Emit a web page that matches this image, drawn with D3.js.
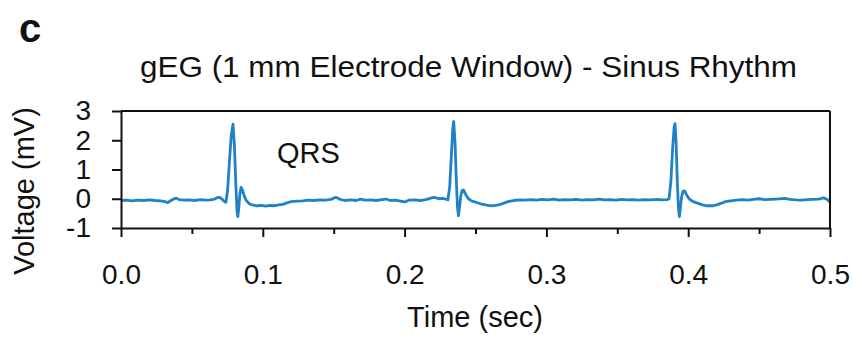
<!DOCTYPE html>
<html>
<head>
<meta charset="utf-8">
<script src="https://cdn.jsdelivr.net/npm/d3@7"></script>
<style>
  html, body { margin: 0; padding: 0; background: #fff; }
  svg { display: block; }
  text { font-family: "Liberation Sans", Arial, Helvetica, sans-serif; fill: #111; }
</style>
</head>
<body>
<svg id="chart" width="853" height="337"></svg>
<script>
// ---- Data ----
const panelLabel = "c";
const chartTitle = "gEG (1 mm Electrode Window) - Sinus Rhythm";
const xAxisTitle = "Time (sec)";
const yAxisTitle = "Voltage (mV)";
const annotationText = "QRS";
const xTickValues = [0.0, 0.1, 0.2, 0.3, 0.4, 0.5];
const xMinorTickValues = [0.05, 0.15, 0.25, 0.35, 0.45];
const yTickValues = [-1, 0, 1, 2, 3];

const timeSec = [
  0.000, 0.004, 0.008, 0.012, 0.016, 0.020, 0.024, 0.028, 0.031, 0.033,
  0.035, 0.037, 0.039, 0.041, 0.044, 0.048, 0.052, 0.056, 0.060, 0.063,
  0.066, 0.068, 0.0695, 0.071, 0.0725, 0.0740, 0.0752, 0.0765, 0.0778, 0.0790,
  0.0800, 0.0810, 0.0818, 0.0824, 0.0831, 0.0838, 0.0847, 0.0858, 0.0870, 0.0885,
  0.0905, 0.0930, 0.0960, 0.0990, 0.1020, 0.1050, 0.1080, 0.1110, 0.1140, 0.1170,
  0.1200, 0.1240, 0.1280, 0.1320, 0.1360, 0.1400, 0.1440, 0.1480, 0.1515, 0.1545,
  0.1580, 0.1620, 0.1660, 0.1690, 0.1720, 0.1760, 0.1800, 0.1840, 0.1870, 0.1900,
  0.1935, 0.1970, 0.2000, 0.2030, 0.2070, 0.2110, 0.2150, 0.2190, 0.2210, 0.2240,
  0.2270, 0.2290, 0.2305, 0.2318, 0.2330, 0.2340, 0.2346, 0.2356, 0.2365, 0.2373,
  0.2380, 0.2387, 0.2395, 0.2405, 0.2416, 0.2430, 0.2450, 0.2475, 0.2505, 0.2540,
  0.2580, 0.2610, 0.2640, 0.2670, 0.2700, 0.2735, 0.2770, 0.2810, 0.2850, 0.2890,
  0.2930, 0.2970, 0.3010, 0.3050, 0.3090, 0.3130, 0.3170, 0.3210, 0.3250, 0.3290,
  0.3330, 0.3370, 0.3410, 0.3450, 0.3490, 0.3530, 0.3570, 0.3610, 0.3650, 0.3690,
  0.3730, 0.3760, 0.3790, 0.3810, 0.3850, 0.3865, 0.3878, 0.3890, 0.3900, 0.3907,
  0.3915, 0.3923, 0.3931, 0.3938, 0.3945, 0.3953, 0.3963, 0.3975, 0.3990, 0.4010,
  0.4035, 0.4065, 0.4100, 0.4135, 0.4170, 0.4200, 0.4230, 0.4260, 0.4300, 0.4340,
  0.4380, 0.4420, 0.4460, 0.4500, 0.4540, 0.4580, 0.4620, 0.4680, 0.4720, 0.4760,
  0.4800, 0.4840, 0.4880, 0.4920, 0.4955, 0.4980, 0.5000
];
const voltageMv = [
  -0.06, -0.05, -0.07, -0.05, -0.06, -0.04, -0.06, -0.07, -0.10, -0.13,
  -0.07, -0.01, 0.02, -0.03, -0.05, -0.04, -0.06, -0.03, -0.05, -0.04,
  -0.01, 0.04, 0.05, 0.00, -0.08, -0.12, 0.30, 1.30, 2.20, 2.55,
  1.80, 0.50, -0.40, -0.61, -0.30, 0.15, 0.39, 0.28, 0.08, -0.07,
  -0.17, -0.22, -0.24, -0.23, -0.25, -0.23, -0.24, -0.21, -0.19, -0.14,
  -0.10, -0.08, -0.07, -0.05, -0.06, -0.04, -0.05, -0.02, 0.05, -0.02,
  -0.06, -0.04, -0.06, -0.01, -0.05, -0.04, -0.06, -0.03, -0.01, -0.06,
  -0.05, -0.08, -0.11, -0.05, -0.04, -0.06, -0.03, 0.03, 0.05, 0.00,
  0.01, -0.01, -0.04, 0.40, 1.50, 2.40, 2.64, 1.90, 0.60, -0.30,
  -0.58, -0.30, 0.05, 0.28, 0.30, 0.15, 0.00, -0.08, -0.12, -0.18,
  -0.22, -0.24, -0.23, -0.20, -0.15, -0.09, -0.06, -0.04, -0.05, -0.03,
  -0.05, -0.02, -0.04, -0.01, -0.05, -0.03, -0.04, -0.02, -0.05, -0.03,
  -0.04, -0.01, -0.04, -0.03, -0.05, -0.02, -0.04, -0.03, -0.05, -0.03,
  -0.04, -0.03, -0.02, -0.04, -0.03, 0.00, 0.60, 1.70, 2.40, 2.57,
  1.90, 0.60, -0.30, -0.61, -0.30, 0.05, 0.25, 0.27, 0.12, -0.02,
  -0.10, -0.15, -0.21, -0.24, -0.24, -0.21, -0.16, -0.10, -0.07, -0.05,
  -0.03, -0.05, -0.02, 0.00, -0.03, -0.02, -0.01, 0.01, -0.02, -0.04,
  -0.05, -0.03, -0.02, -0.01, 0.03, -0.02, -0.12
];

// ---- Layout ----
const svg = d3.select("#chart");
const plot = { left: 121, right: 830, top: 111, bottom: 228 };
const lineColor = "#1f82c6";
const fontSize = 28;

const x = d3.scaleLinear().domain([0, 0.5]).range([plot.left, plot.right]);
const y = d3.scaleLinear().domain([-1, 3]).range([plot.bottom, plot.top]);

const points = timeSec.map((t, i) => ({ t, v: voltageMv[i] }));

// clip
svg.append("defs").append("clipPath").attr("id", "plotclip")
  .append("rect")
  .attr("x", plot.left).attr("y", plot.top - 2)
  .attr("width", plot.right - plot.left).attr("height", plot.bottom - plot.top + 4);

// trace
svg.append("path")
  .datum(points)
  .attr("clip-path", "url(#plotclip)")
  .attr("fill", "none")
  .attr("stroke", lineColor)
  .attr("stroke-width", 2.8)
  .attr("stroke-linejoin", "round")
  .attr("d", d3.line().x(d => x(d.t)).y(d => y(d.v)));

// frame (top & right)
svg.append("line").attr("x1", plot.left).attr("x2", plot.right)
  .attr("y1", plot.top).attr("y2", plot.top)
  .attr("stroke", "#111").attr("stroke-width", 2);
svg.append("line").attr("x1", plot.right).attr("x2", plot.right)
  .attr("y1", plot.top).attr("y2", plot.bottom)
  .attr("stroke", "#111").attr("stroke-width", 2);

// x axis (major)
svg.append("g")
  .attr("transform", `translate(0,${plot.bottom})`)
  .call(d3.axisBottom(x).tickValues(xTickValues).tickFormat(d3.format(".1f"))
    .tickSize(9).tickPadding(27).tickSizeOuter(0));
// x axis minor ticks
svg.append("g")
  .attr("transform", `translate(0,${plot.bottom})`)
  .call(d3.axisBottom(x).tickValues(xMinorTickValues).tickFormat("")
    .tickSize(6).tickSizeOuter(0))
  .call(g => g.select(".domain").remove());

// y axis
const yAxis = svg.append("g")
  .attr("transform", `translate(${plot.left},0)`)
  .call(d3.axisLeft(y).tickValues(yTickValues).tickFormat(d3.format("d"))
    .tickSize(9).tickPadding(21).tickSizeOuter(0));

svg.selectAll(".domain").attr("stroke", "#111").attr("stroke-width", 2);
svg.selectAll(".tick line").attr("stroke", "#111").attr("stroke-width", 2);
svg.selectAll(".tick text")
  .attr("font-size", fontSize)
  .attr("font-family", "'Liberation Sans', Arial, sans-serif")
  .attr("fill", "#111");
yAxis.selectAll(".tick text").text(d => String(d));

// panel label
svg.append("text").attr("x", 19).attr("y", 42)
  .attr("font-size", 40).attr("font-weight", "bold")
  .text(panelLabel);

// title
svg.append("text").attr("x", 140).attr("y", 77)
  .attr("font-size", 30)
  .attr("textLength", 657).attr("lengthAdjust", "spacingAndGlyphs")
  .text(chartTitle);

// annotation
svg.append("text").attr("x", 277).attr("y", 163)
  .attr("font-size", 29)
  .text(annotationText);

// axis titles
svg.append("text").attr("x", 475).attr("y", 327)
  .attr("text-anchor", "middle").attr("font-size", 29)
  .text(xAxisTitle);
svg.append("text")
  .attr("transform", `translate(34,191) rotate(-90)`)
  .attr("text-anchor", "middle").attr("font-size", 29)
  .text(yAxisTitle);
</script>
</body>
</html>
